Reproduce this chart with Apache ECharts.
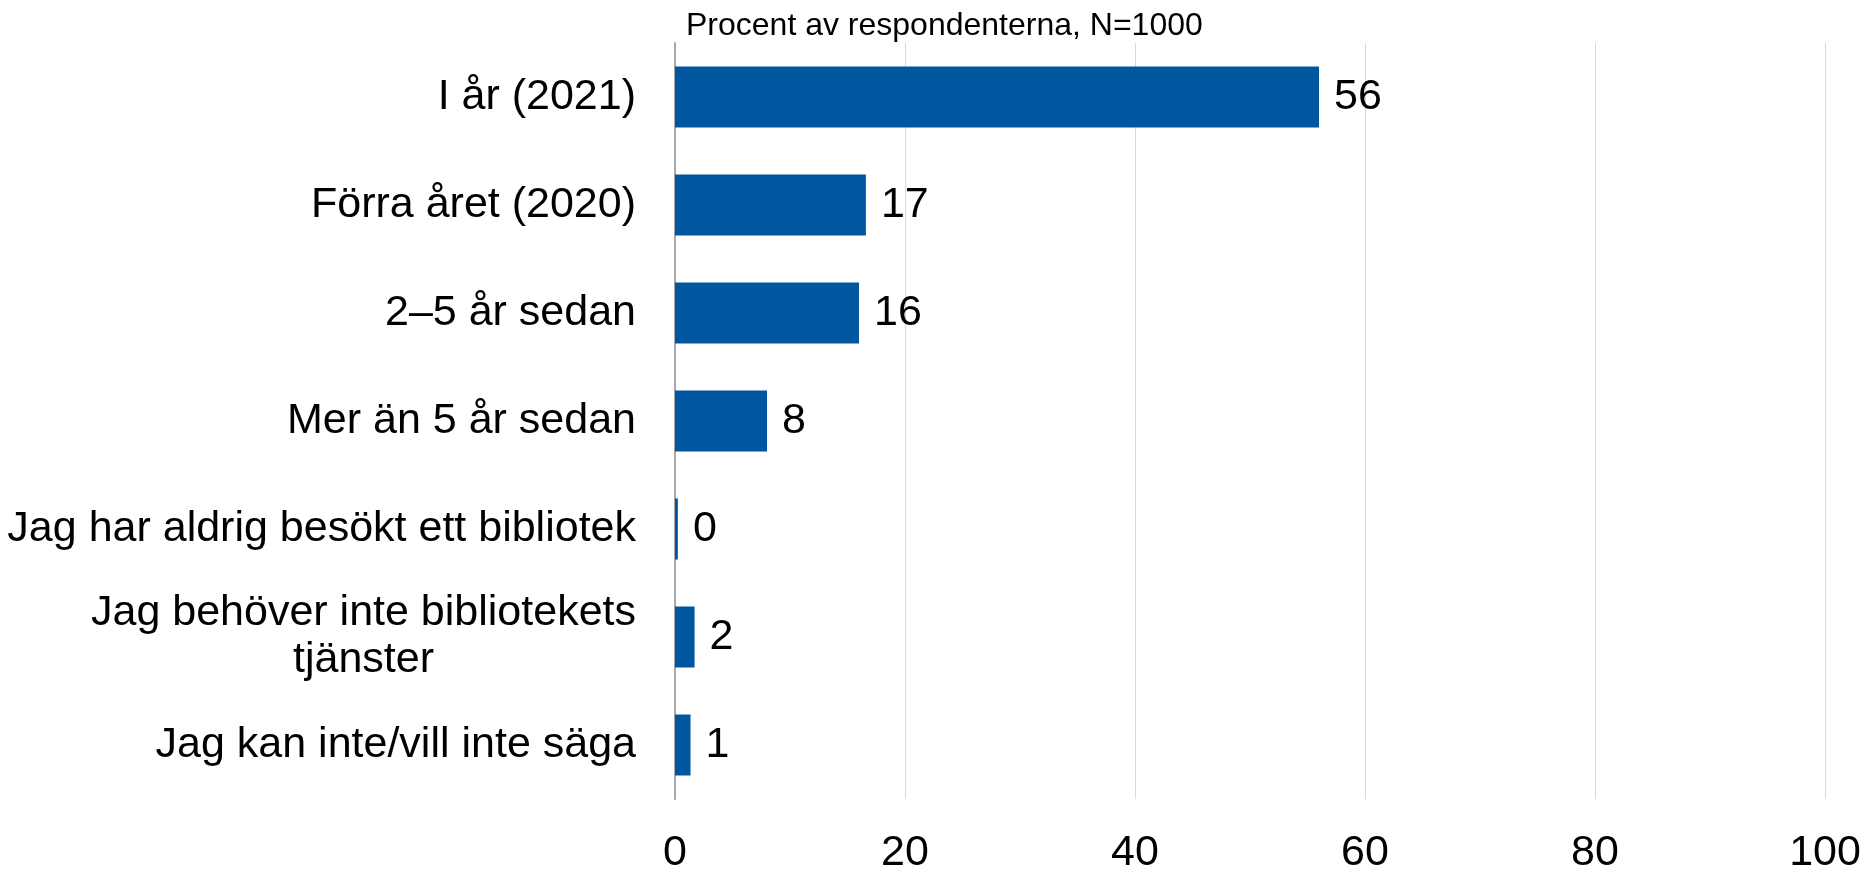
<!DOCTYPE html>
<html>
<head>
<meta charset="utf-8">
<script src="https://cdn.jsdelivr.net/npm/echarts@6/dist/echarts.min.js"></script>
<style>
html,body{margin:0;padding:0;background:#fff;}
#chart{width:1867px;height:875px;}
</style>
</head>
<body>
<div id="chart"></div>
<script>
const titleText = 'Procent av respondenterna, N=1000';
const categories = [
  'I år (2021)',
  'Förra året (2020)',
  '2–5 år sedan',
  'Mer än 5 år sedan',
  'Jag har aldrig besökt ett bibliotek',
  'Jag behöver inte bibliotekets\ntjänster',
  'Jag kan inte/vill inte säga'
];
const values = [56, 16.6, 16.0, 8.0, 0.25, 1.7, 1.35];
const xTicks = [0, 20, 40, 60, 80, 100];

const FONT = '"Liberation Sans", Arial, sans-serif';
const chart = echarts.init(document.getElementById('chart'), null, {renderer: 'canvas'});
chart.setOption({
  backgroundColor: '#ffffff',
  animation: false,
  title: {
    text: titleText,
    left: 681,
    top: 5,
    textStyle: {fontFamily: FONT, fontSize: 32, fontWeight: 'normal', color: '#000'}
  },
  grid: {left: 675, right: 42, top: 43, bottom: 68, containLabel: false},
  xAxis: {
    type: 'value',
    min: xTicks[0],
    max: xTicks[xTicks.length - 1],
    interval: xTicks[1] - xTicks[0],
    axisLine: {show: false},
    axisTick: {show: false},
    splitLine: {show: true, lineStyle: {color: '#D9D9D9', width: 1}},
    axisLabel: {fontFamily: FONT, fontSize: 43, color: '#000', margin: 33}
  },
  yAxis: {
    type: 'category',
    data: categories,
    inverse: true,
    axisLine: {show: true, lineStyle: {color: '#A8A8A8', width: 2}},
    axisTick: {show: false},
    axisLabel: {
      margin: 39,
      formatter: function (v) {
        return v.split('\n').map(s => '{c|' + s + '}').join('\n');
      },
      rich: {
        c: {fontFamily: FONT, fontSize: 43, color: '#000', align: 'center', lineHeight: 47}
      }
    }
  },
  series: [{
    type: 'bar',
    data: values,
    barWidth: 61,
    itemStyle: {color: '#00579F'},
    label: {
      show: true,
      position: 'right',
      distance: 15,
      fontFamily: FONT,
      fontSize: 43,
      color: '#000',
      formatter: p => Math.round(p.value)
    }
  }]
});
</script>
</body>
</html>
